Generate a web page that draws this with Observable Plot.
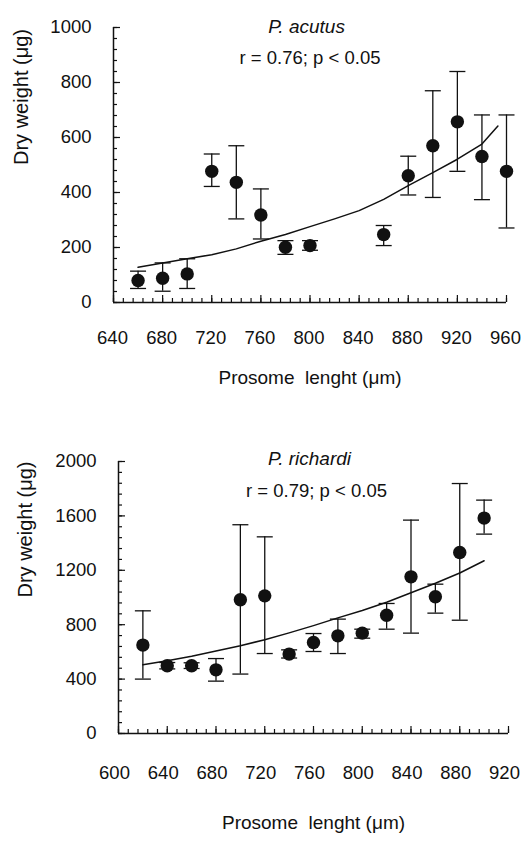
<!DOCTYPE html>
<html><head><meta charset="utf-8">
<script src="https://cdn.jsdelivr.net/npm/d3@7"></script>
<script src="https://cdn.jsdelivr.net/npm/@observablehq/plot@0.6"></script>
<style>body{margin:0;background:#fff;overflow:hidden;} svg{display:block;}</style>
</head><body><div id="chart"></div>
<script>
// ---- P. acutus ----
const acutusLength = [660,680,700,720,740,760,780,800,860,880,900,920,940,960];
const acutusWeight = [80,88,104,477,437,318,201,207,247,461,570,657,531,477];
const acutusHigh   = [114,144,159,540,570,413,225,225,280,532,770,840,682,682];
const acutusLow    = [51,41,51,422,304,231,175,190,207,391,382,477,374,271];
const acutusFitLength = [660,680,700,720,740,760,780,800,820,840,860,880,900,920,940,953];
const acutusFitWeight = [128,144,159,174,195,223,247,276,304,334,375,425,472,521,576,642];
const acutusXLabels = [640,680,720,760,800,840,880,920,960];
const acutusXMinor = d3.range(640, 961, 8);
const acutusYLabels = [0,200,400,600,800,1000];
const acutusYMinor = d3.range(0, 1001, 40);

// ---- P. richardi ----
const richardiLength = [620,640,660,680,700,720,740,760,780,800,820,840,860,880,900];
const richardiWeight = [650,498,498,468,983,1012,584,669,718,738,870,1152,1005,1331,1584];
const richardiHigh   = [902,522,520,551,1535,1446,615,735,841,767,956,1569,1098,1838,1716];
const richardiLow    = [400,475,478,385,437,588,555,603,588,701,767,738,885,833,1466];
const richardiFitLength = [620,640,660,680,700,720,740,760,780,800,820,840,860,880,900];
const richardiFitWeight = [505,535,568,607,645,690,740,793,850,905,965,1035,1105,1180,1270];
const richardiXLabels = [600,640,680,720,760,800,840,880,920];
const richardiXMinor = d3.range(600, 921, 8);
const richardiYLabels = [0,400,800,1200,1600,2000];
const richardiYMinor = d3.range(0, 2001, 80);

const xTitle = "Prosome\u00a0 lenght (\u03bcm)";
const yTitle = "Dry weight (\u03bcg)";
const FONT = "'Liberation Sans', Arial, sans-serif";
const INK = "#111";

const cap = {draw(ctx){ ctx.moveTo(-8,0); ctx.lineTo(8,0); }};

function panel(o) {
  const rows = o.length.map((x,i) => ({x, w: o.weight[i], hi: o.high[i], lo: o.low[i]}));
  const fit = o.fitLength.map((x,i) => ({x, w: o.fitWeight[i]}));
  return Plot.plot({
    width: 522, height: o.height,
    marginLeft: o.m[0], marginRight: o.m[1], marginTop: o.m[2], marginBottom: o.m[3],
    style: {fontFamily: FONT, color: INK, background: "#fff", overflow: "visible"},
    x: {domain: o.xDomain},
    y: {domain: o.yDomain},
    marks: [
      Plot.ruleX(rows, {x: "x", y1: "lo", y2: "hi", stroke: INK, strokeWidth: 1.3}),
      Plot.dot(rows, {x: "x", y: "hi", symbol: cap, fill: "none", stroke: INK, strokeWidth: 1.3}),
      Plot.dot(rows, {x: "x", y: "lo", symbol: cap, fill: "none", stroke: INK, strokeWidth: 1.3}),
      Plot.line(fit, {x: "x", y: "w", stroke: INK, strokeWidth: 1.5}),
      Plot.dot(rows, {x: "x", y: "w", r: 6.7, fill: INK, stroke: "none"}),
      Plot.ruleY([o.yDomain[0]], {stroke: INK, strokeWidth: 1.5}),
      Plot.ruleX([o.xDomain[0]], {stroke: INK, strokeWidth: 1.5}),
      Plot.axisX(o.xMinor, {tickSize: -4, tickFormat: () => "", label: null, stroke: INK, strokeWidth: 1.2}),
      Plot.axisX(o.xLabels, {tickSize: -7, tickFormat: () => "", label: null, stroke: INK, strokeWidth: 1.2}),
      Plot.axisX(o.xLabels, {tickSize: 0, tickPadding: o.xPad, dx: o.xDx, tickFormat: d => String(d), fontSize: 18.5, label: null, fill: INK}),
      Plot.axisY(o.yMinor, {tickSize: -4, tickFormat: () => "", label: null, stroke: INK, strokeWidth: 1.2}),
      Plot.axisY(o.yLabels, {tickSize: -7, tickPadding: 29, tickFormat: d => String(d), fontSize: 18.5, label: null, stroke: INK, strokeWidth: 1.2, fill: INK}),
      Plot.text([o.species], {text: d => d, frameAnchor: "top", dx: o.sp[0], dy: o.sp[1], fontSize: 19, fontStyle: "italic", fill: INK}),
      Plot.text([o.stat], {text: d => d, frameAnchor: "top", dx: o.st[0], dy: o.st[1], fontSize: 18.5, fill: INK}),
      Plot.text([xTitle], {text: d => d, frameAnchor: "bottom", dy: o.xt, fontSize: 19, fill: INK}),
      Plot.text([yTitle], {text: d => d, frameAnchor: "left", rotate: -90, dx: o.yt, fontSize: 20, fill: INK})
    ]
  });
}

const top1 = panel({
  length: acutusLength, weight: acutusWeight, high: acutusHigh, low: acutusLow,
  fitLength: acutusFitLength, fitWeight: acutusFitWeight,
  xDomain: [640, 960], yDomain: [0, 1000],
  xLabels: acutusXLabels, xMinor: acutusXMinor, yLabels: acutusYLabels, yMinor: acutusYMinor,
  species: "P. acutus", stat: "r = 0.76; p < 0.05",
  height: 420, m: [113, 16, 27, 118], xPad: 28, xDx: -1,
  sp: [-3.5, -8.5], st: [0, 23.5], xt: 81, yt: -92
});
const bot = panel({
  length: richardiLength, weight: richardiWeight, high: richardiHigh, low: richardiLow,
  fitLength: richardiFitLength, fitWeight: richardiFitWeight,
  xDomain: [600, 920], yDomain: [0, 2000],
  xLabels: richardiXLabels, xMinor: richardiXMinor, yLabels: richardiYLabels, yMinor: richardiYMinor,
  species: "P. richardi", stat: "r = 0.79; p < 0.05",
  height: 421, m: [118, 14, 41, 108], xPad: 32, xDx: -4,
  sp: [-4, -10.5], st: [3, 22.5], xt: 95, yt: -93
});
document.getElementById("chart").append(top1, bot);
</script>
</body></html>
